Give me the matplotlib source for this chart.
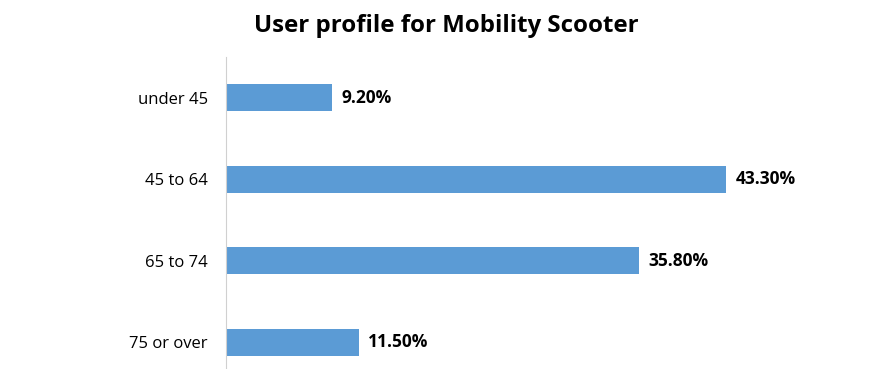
import matplotlib.pyplot as plt

categories = ["under 45", "45 to 64", "65 to 74", "75 or over"]
values = [9.2, 43.3, 35.8, 11.5]

plt.rcParams["font.family"] = ["Open Sans", "DejaVu Sans"]

fig = plt.figure(figsize=(8.74, 3.69), dpi=100)
ax = fig.add_axes([0.2586, -0.038, 0.660, 0.8835])

ypos = list(range(len(categories)))
bars = ax.barh(ypos, values, height=0.33, color="#5B9BD5")
ax.set_ylim(len(categories) - 0.5, -0.5)
ax.set_xlim(0, 50)
ax.set_yticks(ypos)
ax.set_yticklabels(categories, fontsize=12)
ax.tick_params(axis="y", length=0, pad=13)
ax.set_xticks([])
for s in ["top", "right", "bottom"]:
    ax.spines[s].set_visible(False)
ax.spines["left"].set_color("#d0d0d0")

for b, v in zip(bars, values):
    ax.annotate(f"{v:.2f}%", (b.get_width(), b.get_y() + b.get_height() / 2),
                xytext=(7, 0), textcoords="offset points", va="center",
                fontsize=12.5, fontweight="bold")

fig.text(0.511, 0.93, "User profile for Mobility Scooter", ha="center", va="center",
         fontsize=17.3, fontweight="bold")

fig.savefig("out.png", dpi=100)
